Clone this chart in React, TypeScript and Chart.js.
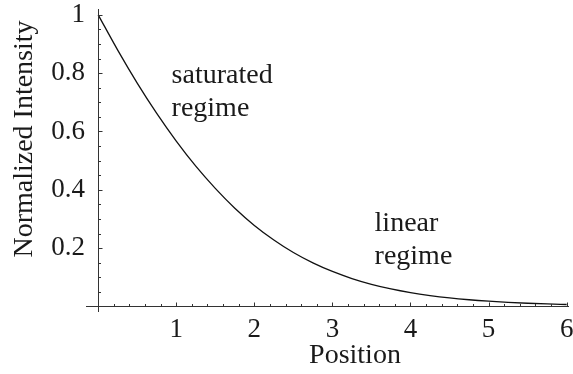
import React, { useEffect, useRef } from 'react';
import { Chart, registerables } from 'chart.js';

Chart.register(...registerables);

// Data
const positions = [
  0, 0.25, 0.5, 0.75, 1, 1.25, 1.5, 1.75, 2, 2.25, 2.5, 2.75, 3, 3.25, 3.5, 3.75,
  4, 4.25, 4.5, 4.75, 5, 5.25, 5.5, 5.75, 6,
];
const intensity = [
  1.0, 0.879, 0.766, 0.662, 0.567, 0.481, 0.405, 0.337, 0.278, 0.228, 0.185, 0.1495,
  0.12, 0.0958, 0.076, 0.0602, 0.0475, 0.0374, 0.0293, 0.023, 0.018, 0.014, 0.011,
  0.0086, 0.0067,
];
const xTickValues = [1, 2, 3, 4, 5, 6];
const yTickValues = [0.2, 0.4, 0.6, 0.8, 1];
const xAxisTitle = 'Position';
const yAxisTitle = 'Normalized Intensity';
const saturatedLabel = ['saturated', 'regime'];
const linearLabel = ['linear', 'regime'];

const FONT = "'Liberation Serif', 'Times New Roman', serif";
const TEXT_COLOR = '#1a1a1a';
const AXIS_COLOR = '#333333';

const axesPlugin = {
  id: 'mmaAxes',
  afterDatasetsDraw(chart: any) {
    const { ctx, chartArea } = chart;
    const xs = chart.scales.x;
    const ys = chart.scales.y;
    const x0 = Math.round(xs.getPixelForValue(0)) + 0.5;
    const y0 = Math.round(ys.getPixelForValue(0)) + 0.5;
    ctx.save();
    ctx.strokeStyle = AXIS_COLOR;
    ctx.lineWidth = 1;
    ctx.beginPath();
    // axes lines
    ctx.moveTo(chartArea.left, y0);
    ctx.lineTo(chartArea.right, y0);
    ctx.moveTo(x0, chartArea.top);
    ctx.lineTo(x0, chartArea.bottom);
    // x ticks (minor every 0.2, major every 1)
    for (let i = 1; i <= 30; i++) {
      const px = Math.round(xs.getPixelForValue(i * 0.2)) + 0.5;
      const len = i % 5 === 0 ? 4 : 2.5;
      ctx.moveTo(px, y0);
      ctx.lineTo(px, y0 - len);
    }
    // y ticks (minor every 0.05, major every 0.2)
    for (let i = 1; i <= 20; i++) {
      const py = Math.round(ys.getPixelForValue(i * 0.05)) + 0.5;
      const len = i % 4 === 0 ? 4 : 2.5;
      ctx.moveTo(x0, py);
      ctx.lineTo(x0 + len, py);
    }
    ctx.stroke();

    // axis titles
    ctx.fillStyle = TEXT_COLOR;
    ctx.font = `28px ${FONT}`;
    ctx.textBaseline = 'alphabetic';
    ctx.textAlign = 'center';
    ctx.fillText(xAxisTitle, 355, 363);
    ctx.save();
    ctx.translate(32, 139);
    ctx.rotate(-Math.PI / 2);
    ctx.fillText(yAxisTitle, 0, 0);
    ctx.restore();

    // annotations (anchored in data coordinates)
    ctx.textAlign = 'left';
    const drawLabel = (lines: string[], dx: number, dy: number) => {
      const px = xs.getPixelForValue(dx);
      const py = ys.getPixelForValue(dy);
      lines.forEach((t, k) => ctx.fillText(t, px, py + k * 33));
    };
    drawLabel(saturatedLabel, 0.94, 0.766);
    drawLabel(linearLabel, 3.54, 0.258);
    ctx.restore();
  },
};

export default function App() {
  const canvasRef = useRef<HTMLCanvasElement | null>(null);

  useEffect(() => {
    if (!canvasRef.current) return;
    const chart = new Chart(canvasRef.current, {
      type: 'line',
      data: {
        datasets: [
          {
            data: positions.map((p, i) => ({ x: p, y: intensity[i] })),
            borderColor: '#111111',
            borderWidth: 1.3,
            pointRadius: 0,
            cubicInterpolationMode: 'monotone',
            fill: false,
          },
        ],
      },
      options: {
        animation: false,
        responsive: false,
        devicePixelRatio: 1,
        layout: { padding: { top: 9, right: 4, left: 0, bottom: 0 } },
        plugins: {
          legend: { display: false },
          tooltip: { enabled: false },
        },
        scales: {
          x: {
            type: 'linear',
            min: -0.156,
            max: 6.03,
            grid: { display: false, drawTicks: false, tickLength: 0 },
            border: { display: false },
            afterBuildTicks: (scale: any) => {
              scale.ticks = xTickValues.map((v) => ({ value: v }));
            },
            afterFit: (scale: any) => {
              scale.height = 62;
              scale.paddingLeft = 0;
              scale.paddingRight = 0;
            },
            ticks: {
              padding: 2,
              maxRotation: 0,
              autoSkip: false,
              color: TEXT_COLOR,
              font: { family: FONT, size: 27 },
              callback: (v: any) => String(v),
            },
          },
          y: {
            type: 'linear',
            min: -0.019,
            max: 1.02,
            grid: { display: false, drawTicks: false, tickLength: 0 },
            border: { display: false },
            afterBuildTicks: (scale: any) => {
              scale.ticks = yTickValues.map((v) => ({ value: v }));
            },
            afterFit: (scale: any) => {
              scale.width = 86;
              scale.paddingTop = 0;
              scale.paddingBottom = 0;
            },
            ticks: {
              padding: 1,
              autoSkip: false,
              color: TEXT_COLOR,
              font: { family: FONT, size: 27 },
              callback: (v: any) => String(parseFloat(Number(v).toFixed(1))),
            },
          },
        },
      },
      plugins: [axesPlugin],
    });
    return () => chart.destroy();
  }, []);

  return (
    <div style={{ position: 'absolute', left: 0, top: 0, width: 573, height: 374, background: '#fff' }}>
      <canvas ref={canvasRef} width={573} height={374} style={{ display: 'block' }} />
    </div>
  );
}
